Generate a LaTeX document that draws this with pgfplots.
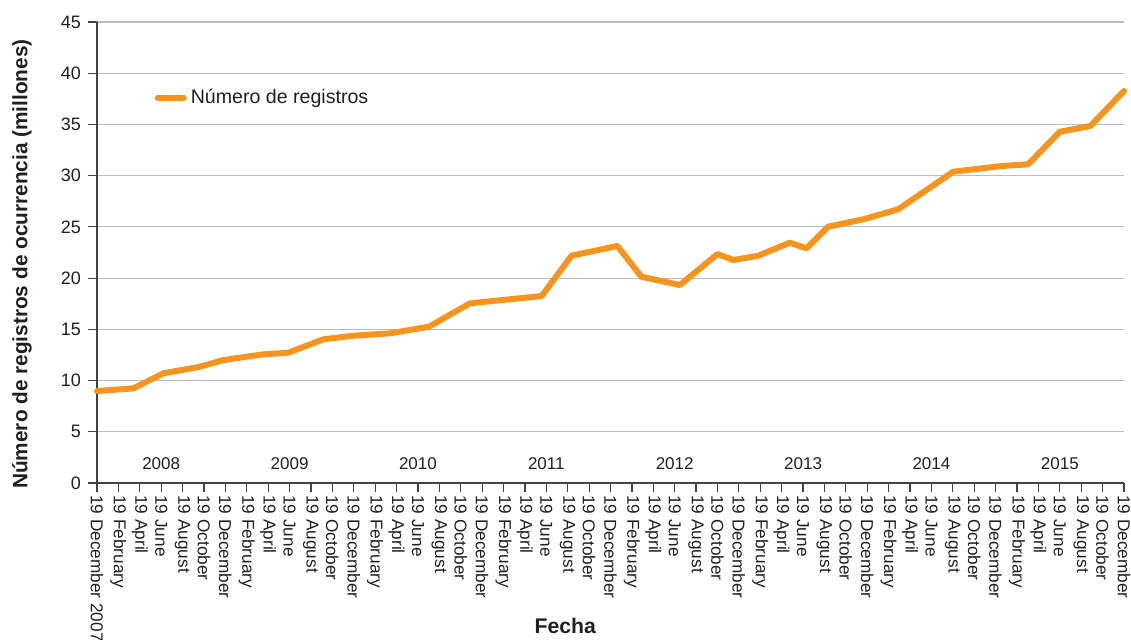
\documentclass[border=0pt]{standalone}
\usepackage{pgfplots}
\pgfplotsset{compat=1.18}
\usepackage{fontspec}
\setmainfont{Liberation Sans}
\definecolor{lineor}{HTML}{F7941D}
\definecolor{gridg}{HTML}{BDBDBD}
\definecolor{txt}{HTML}{231F20}
\pgfplotstableread{
x y
0 8.98
1.70 9.24
3.10 10.71
4.81 11.35
5.90 12.0
7.77 12.56
8.94 12.72
10.58 14.03
11.98 14.38
13.69 14.61
15.52 15.26
17.43 17.54
20.78 18.25
22.18 22.19
24.32 23.14
25.44 20.14
27.24 19.33
29.00 22.35
29.74 21.77
30.91 22.19
32.38 23.46
33.16 22.91
34.17 25.02
35.81 25.74
37.45 26.72
40.02 30.39
42.28 30.94
43.52 31.11
45.0 34.29
46.43 34.85
48.0 38.27
}\datatable
\begin{document}
\begin{tikzpicture}
\begin{axis}[
  name=ax,
  width=513.5pt, height=230.5pt, scale only axis,
  xmin=0, xmax=48, ymin=0, ymax=45,
  axis lines*=left,
  axis line style={-, color=txt!85, line width=0.6pt},
  ytick={0,5,...,45},
  xtick={0,...,48},
  xticklabels={19 December 2007,19 February,19 April,19 June,19 August,19 October,19 December,19 February,19 April,19 June,19 August,19 October,19 December,19 February,19 April,19 June,19 August,19 October,19 December,19 February,19 April,19 June,19 August,19 October,19 December,19 February,19 April,19 June,19 August,19 October,19 December,19 February,19 April,19 June,19 August,19 October,19 December,19 February,19 April,19 June,19 August,19 October,19 December,19 February,19 April,19 June,19 August,19 October,19 December},
  tick align=outside,
  major tick length=4.5pt,
  tick style={color=txt!85, line width=0.6pt},
  ymajorgrids,
  grid style={gridg, line width=0.6pt},
  x tick label style={rotate=-90, anchor=west, font=\fontsize{8.6}{9}\selectfont, color=txt, inner sep=1.5pt},
  y tick label style={font=\fontsize{9}{10}\selectfont, color=txt},
  /pgf/number format/assume math mode=true,
  xlabel={\textbf{Fecha}},
  ylabel={\textbf{Número de registros de ocurrencia (millones)}},
  xlabel style={at={(axis description cs:0.456,-0.311)}, anchor=center, inner sep=1pt, font=\fontsize{10.6}{12}\selectfont, color=txt},
  ylabel style={at={(axis description cs:-0.073,0.475)}, anchor=center, font=\fontsize{10.4}{12}\selectfont, color=txt},
  legend style={at={(0.05,0.835)}, anchor=west, draw=none, fill=none, font=\fontsize{9.8}{11}\selectfont, text=txt},
  legend cell align=left,
  legend image code/.code={\draw[#1, line width=3pt, line cap=round] (0pt,0pt) -- (13pt,0pt);},
  clip=false,
]
\addplot[color=lineor, line width=3pt, line cap=round, line join=round] table[x=x, y=y] {\datatable};
\addlegendentry{Número de registros}
\foreach \yr/\xx in {2008/3,2009/9,2010/15,2011/21,2012/27,2013/33,2014/39,2015/45} {
  \edef\tmp{\noexpand\node[font=\noexpand\fontsize{8.5}{9}\noexpand\selectfont, text=txt] at (axis cs:\xx,1.85) {\yr};}
  \tmp
}
\end{axis}
\pgfresetboundingbox
\path[use as bounding box] ([shift={(-48.5pt,-78pt)}]ax.south west) rectangle ([shift={(3.5pt,11pt)}]ax.north east);
\end{tikzpicture}
\end{document}
